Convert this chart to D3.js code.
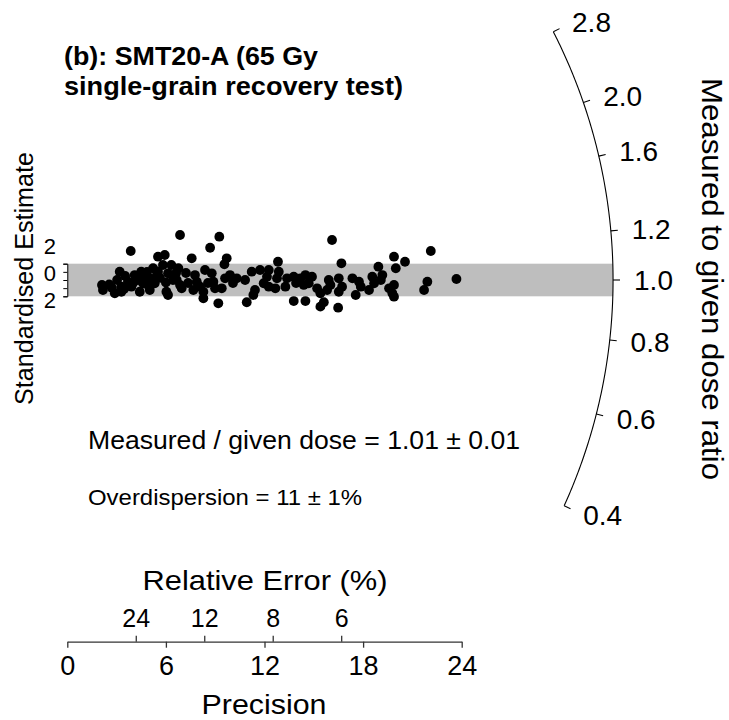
<!DOCTYPE html>
<html><head><meta charset="utf-8">
<script src="https://cdn.jsdelivr.net/npm/d3@7"></script>
<style>
body{margin:0;background:#fff}
svg{display:block}
text{font-family:"Liberation Sans",Arial,Helvetica,sans-serif;fill:#000}
</style>
</head><body><svg id="c" width="729" height="720"></svg>
<script>
// ---- data ----
const precision = [2.11,2.17,2.89,3.19,3.29,3.29,3.69,3.90,3.86,4.10,4.41,4.50,4.61,5.02,5.02,5.22,5.32,5.52,5.93,5.52,5.82,6.13,6.03,6.13,6.33,6.43,
  2.72,3.52,4.30,4.73,3.03,4.00,4.85,5.64,6.62,2.55,3.45,4.95,5.45,6.00,
  6.86,9.25,8.69,7.57,9.70,9.56,6.76,6.66,6.86,6.96,7.77,7.88,8.08,8.28,8.28,8.38,8.79,8.89,8.99,9.40,9.60,9.90,9.19,10.31,10.82,11.22,11.73,11.42,11.32,10.92,7.67,7.22,7.35,
  8.56,10.08,
  11.95,12.15,12.26,12.26,12.82,12.87,12.76,12.66,13.37,13.78,14.18,14.49,14.89,14.69,14.39,15.20,15.91,16.01,15.81,16.52,16.72,16.52,15.40,13.78,14.49,15.61,15.40,16.48,16.11,16.68,13.27,13.92,
  19.88,20.55,22.12,19.99,18.93,19.17,18.56,18.67,19.08,17.35,17.75,17.86,18.36,17.55,19.88,19.58,19.78,19.88,21.91,21.71,23.68];
const stdEstimate = [-0.61,-1.23,-1.63,1.02,-0.82,-1.44,-0.21,-0.82,3.56,0.61,-1.44,1.02,-0.40,0.21,-1.23,1.44,-0.40,2.86,3.07,1.02,1.84,0.82,-1.44,-1.84,1.84,0,
  -0.98,0.49,0,0.49,0,-0.37,0.98,0.25,0.86,-0.55,-1.10,-0.75,0.60,-0.30,
  5.52,5.31,3.96,2.66,2.66,1.93,1.44,0,-0.61,-1.02,0.61,-0.21,-0.82,-1.44,-2.24,1.23,0.82,-0.21,-1.02,-1.02,0.21,0.61,-2.86,0.21,0,1.02,1.23,-1.23,-1.84,-2.73,-1.23,0.86,-0.37,
  -0.37,-0.37,
  -0.40,0.40,1.23,-0.82,2.24,1.02,0.21,-1.02,0.21,0.40,0.21,0.61,0.40,-0.40,-0.61,-1.02,0,-0.61,-1.23,0.21,-0.82,-1.44,-1.63,-2.58,-2.58,-2.73,-3.27,-3.40,4.91,2.05,-0.82,-0.37,
  2.86,2.24,3.56,1.44,1.63,0.61,0.40,-0.40,0,0.21,-0.21,-0.82,-1.23,-1.84,-0.61,-1.02,-1.63,-2.05,-0.21,-1.23,0.12];
const centralRatio = 1.0;
const arcTickValues = [0.4,0.6,0.8,1.0,1.2,1.6,2.0,2.8];
const arcTickLabels = ["0.4","0.6","0.8","1.0","1.2","1.6","2.0","2.8"];
const precisionTicks = [0,6,12,18,24];
const relErrorTicks = [24,12,8,6];
const zTicks = [-2,-1,0,1,2];
const zLabelValues = [2,0,-2];
const zLabelTexts = ["2","0","2"];
const titleLines = ["(b): SMT20-A (65 Gy","single-grain recovery test)"];
const statLines = ["Measured / given dose = 1.01 \u00B1 0.01","Overdispersion = 11 \u00B1 1%"];
const arcPrecisionExtent = 33.21;

// ---- layout ----
const svg = d3.select("#c");
const x = d3.scaleLinear().domain([0,24]).range([67.3,461.7]);
const y = d3.scaleLinear().domain([-2,2]).range([296.3,263.7]);
const ox = x(0), oy = y(0);
const R = x(arcPrecisionExtent) - ox;

function arcPoint(ratio, extra){
  const s = Math.log(ratio/centralRatio);
  const dx = x(1)-x(0), dy = y(s)-y(0);
  const L = Math.hypot(dx,dy);
  return [ox + dx/L*(R+extra), oy + dy/L*(R+extra)];
}

// band (+-2)
svg.append("rect").attr("x",ox).attr("y",y(2)).attr("width",R).attr("height",y(-2)-y(2)).attr("fill","#bebebe");

// arc
const lo = Math.log(arcTickValues[0]), hi = Math.log(arcTickValues[arcTickValues.length-1]);
const arcSamples = d3.range(0,201).map(i=>Math.exp(lo + i/200*(hi-lo)));
svg.append("path").attr("d", d3.line()(arcSamples.map(r=>arcPoint(r,0)))).attr("fill","none").attr("stroke","#000").attr("stroke-width",1.1);
arcTickValues.forEach((r,i)=>{
  const a = arcPoint(r,0), b = arcPoint(r,7), l = arcPoint(r,21);
  svg.append("line").attr("x1",a[0]).attr("y1",a[1]).attr("x2",b[0]).attr("y2",b[1]).attr("stroke","#000").attr("stroke-width",1.1);
  svg.append("text").attr("x",l[0]).attr("y",l[1]).attr("dy","0.36em").attr("font-size",28).text(arcTickLabels[i]);
});

// points
svg.append("g").selectAll("circle").data(precision.map((p,i)=>[p,stdEstimate[i]])).join("circle")
  .attr("cx",d=>x(d[0])).attr("cy",d=>y(d[1])).attr("r",4.9).attr("fill","#000");

// y axis
const yAxisG = svg.append("g").attr("transform",`translate(${ox},0)`)
  .call(d3.axisLeft(y).tickValues(zTicks).tickSize(4).tickSizeOuter(4).tickFormat(""));
yAxisG.selectAll("path,line").attr("stroke","#000");
const zOffsets = [-17.5,-7,4];
zLabelValues.forEach((v,i)=>{
  svg.append("text").attr("x",56).attr("y",y(v)+zOffsets[i]).attr("dy","0.36em").attr("text-anchor","end").attr("font-size",22).text(zLabelTexts[i]);
});
svg.append("text").attr("transform","translate(33,278.5) rotate(-90)").attr("text-anchor","middle")
  .attr("font-size",25).attr("textLength",253).attr("lengthAdjust","spacingAndGlyphs").text("Standardised Estimate");

// right label
svg.append("text").attr("transform","translate(702,279) rotate(90)").attr("text-anchor","middle")
  .attr("font-size",30).attr("textLength",402).attr("lengthAdjust","spacingAndGlyphs").text("Measured to given dose ratio");

// title
titleLines.forEach((t,i)=>{
  svg.append("text").attr("x",64).attr("y",65+i*30).attr("font-size",25).attr("font-weight","bold")
    .attr("textLength",i===0?254:339).attr("lengthAdjust","spacingAndGlyphs").text(t);
});

// stats
svg.append("text").attr("x",88).attr("y",449).attr("font-size",26).attr("textLength",432).attr("lengthAdjust","spacingAndGlyphs").text(statLines[0]);
svg.append("text").attr("x",88).attr("y",505).attr("font-size",22).attr("textLength",274).attr("lengthAdjust","spacingAndGlyphs").text(statLines[1]);

// bottom axes
const axisY = 641.7;
const bottomAxisG = svg.append("g").attr("transform",`translate(0,${axisY})`)
  .call(d3.axisBottom(x).tickValues(precisionTicks).tickSize(6).tickSizeOuter(0).tickPadding(8));
bottomAxisG.selectAll("path,line").attr("stroke","#333").attr("stroke-width",1.3);
bottomAxisG.selectAll("text").attr("font-size",27).attr("fill","#000").attr("font-family",null);
const relAxisG = svg.append("g").attr("transform",`translate(0,${axisY})`)
  .call(d3.axisTop(x).tickValues(relErrorTicks.map(r=>100/r)).tickFormat((d,i)=>String(relErrorTicks[i])).tickSize(6).tickSizeOuter(0).tickPadding(9));
relAxisG.select(".domain").remove();
relAxisG.selectAll("line").attr("stroke","#333").attr("stroke-width",1.3);
relAxisG.selectAll("text").attr("font-size",25).attr("fill","#000").attr("font-family",null);

svg.append("text").attr("x",265).attr("y",590).attr("text-anchor","middle").attr("font-size",28)
  .attr("textLength",245).attr("lengthAdjust","spacingAndGlyphs").text("Relative Error (%)");
svg.append("text").attr("x",264).attr("y",714).attr("text-anchor","middle").attr("font-size",28)
  .attr("textLength",125).attr("lengthAdjust","spacingAndGlyphs").text("Precision");
</script></body></html>
